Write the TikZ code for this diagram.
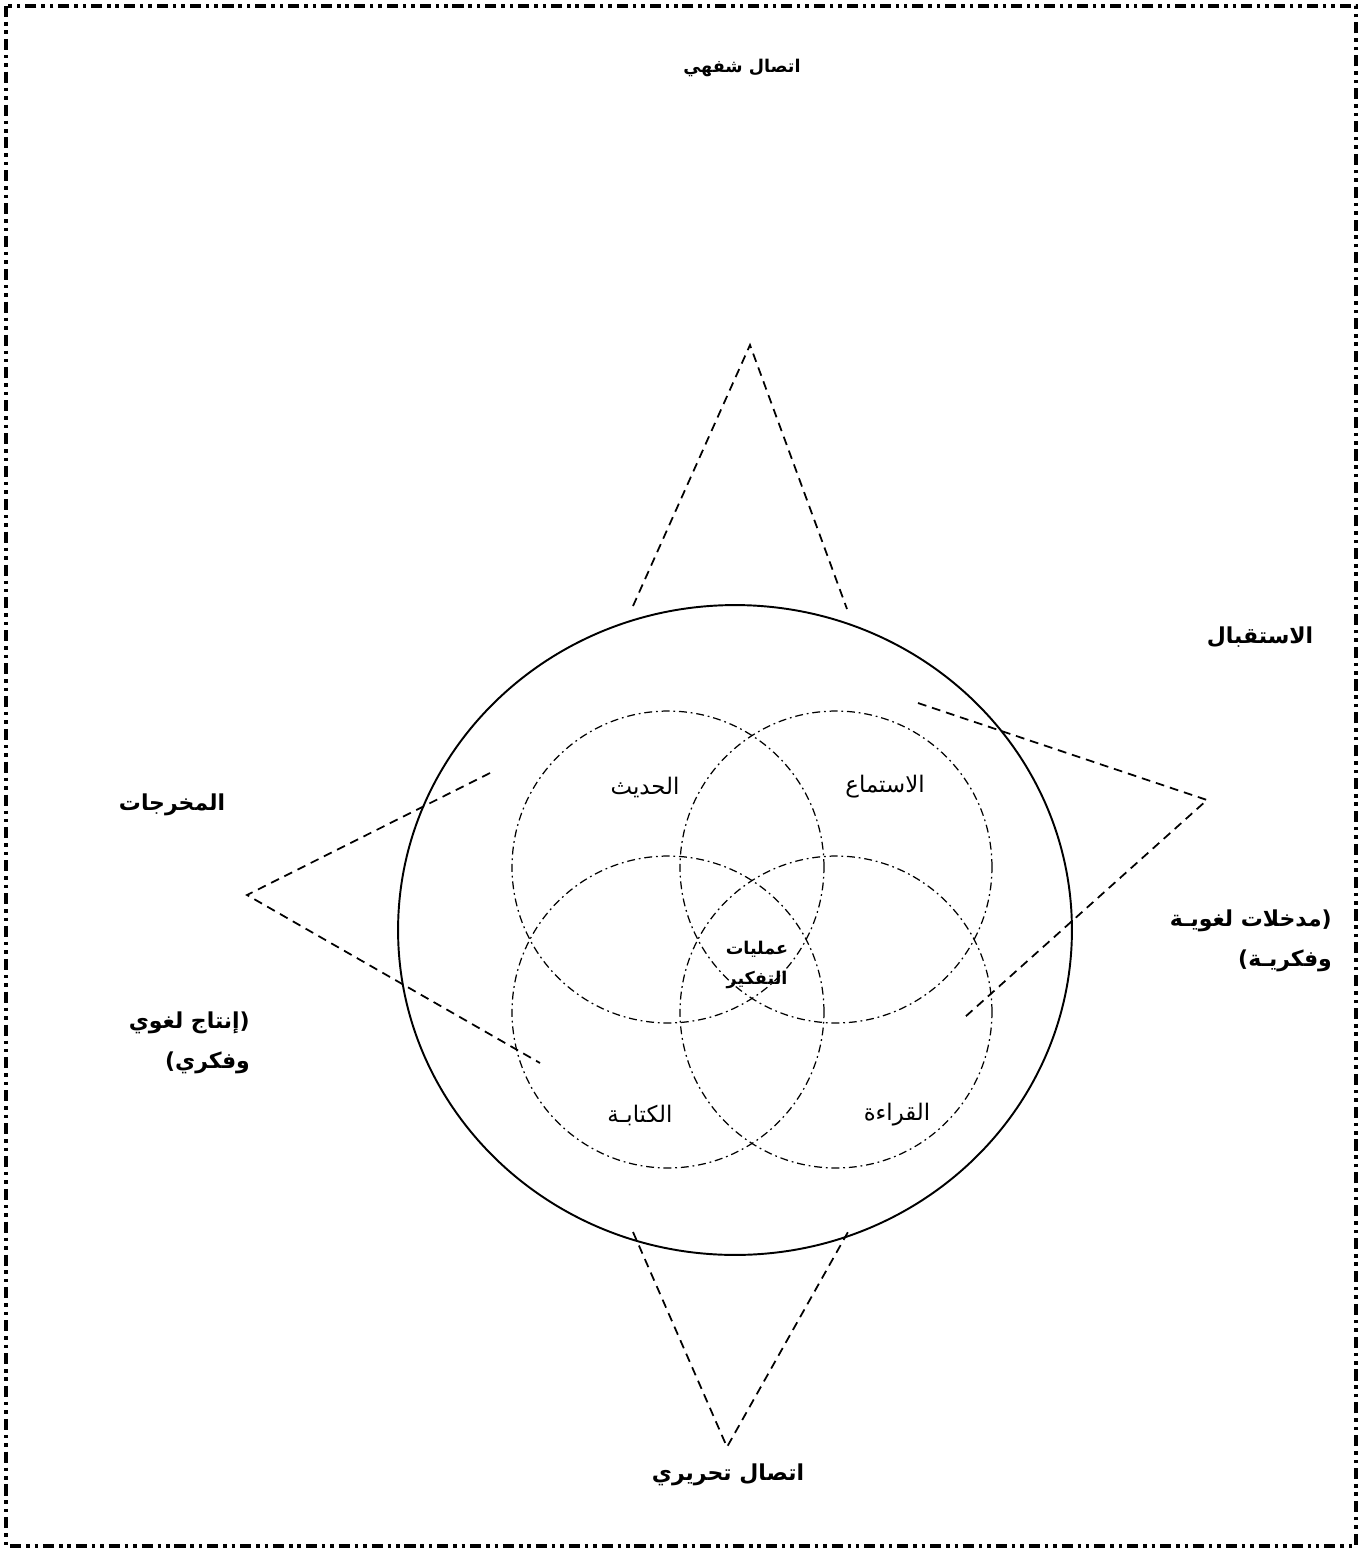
\documentclass[tikz,border=0pt]{standalone}
\usepackage{fontspec}
\usepackage{tikz}
\usetikzlibrary{calc, positioning}
\newfontfamily\arabicfont[Script=Arabic]{DejaVu Sans}
\TeXXeTstate=1
\tikzstyle{frame} = [
line width=2pt,
dash pattern=on 6.3pt off 2.8pt on 2pt off 2.8pt on 2pt off 2.8pt
]
\tikzstyle{outer} = [
line width=1.1pt
]
\tikzstyle{skill} = [
line width=0.7pt,
dash pattern=on 4.5pt off 2.2pt on 1pt off 2.2pt
]
\tikzstyle{wedge} = [
line width=1pt,
dash pattern=on 5pt off 3.4pt
]
\tikzstyle{biglabel} = [
font=\arabicfont\bfseries\fontsize{12.5}{23}\selectfont,
align=center
]
\tikzstyle{sidelabel} = [
font=\arabicfont\bfseries\fontsize{12.5}{23}\selectfont,
align=right,
anchor=east
]
\tikzstyle{toplabel} = [
font=\arabicfont\bfseries\fontsize{10}{13}\selectfont,
align=center
]
\tikzstyle{skilllabel} = [
font=\arabicfont\fontsize{13}{16}\selectfont
]
\tikzstyle{corelabel} = [
font=\arabicfont\bfseries\fontsize{10}{17}\selectfont,
align=center
]
\newcommand{\ar}[1]{\beginR #1\endR}

\begin{document}
\begin{tikzpicture}[x=0.02cm, y=-0.02cm]
        
        \useasboundingbox (0,0) rectangle (1363,1552);
        \draw [frame] (6,6) rectangle (1356,1546);
        
        % circles
        \coordinate (mid) at (735,930);
        \draw [outer] (mid) ellipse [x radius=6.74cm, y radius=6.5cm];
        
        \coordinate (speak) at (668,867);
        \coordinate (listen) at (836,867);
        \coordinate (write) at (668,1012);
        \coordinate (read) at (836,1012);
        \foreach \c in {speak, listen, write, read}
        \draw [skill] (\c) circle [radius=3.12cm];
        
        % wedges
        \coordinate (topA) at (750,345);
        \coordinate (topL) at (633,606);
        \coordinate (topR) at (847,609);
        \coordinate (botA) at (727,1447);
        \coordinate (botL) at (633,1232);
        \coordinate (botR) at (848,1232);
        \coordinate (rgtA) at (1207,800);
        \coordinate (rgtT) at (918,703);
        \coordinate (rgtB) at (965,1017);
        \coordinate (lftA) at (247,895);
        \coordinate (lftT) at (490,773);
        \coordinate (lftB) at (540,1063);
        
        \draw [wedge] (topL) -- (topA) -- (topR);
        \draw [wedge] (botL) -- (botA) -- (botR);
        \draw [wedge] (rgtT) -- (rgtA) -- (rgtB);
        \draw [wedge] (lftT) -- (lftA) -- (lftB);
        
        % labels
        \node (oral) [toplabel] at (742,68) {\ar{اتصال شفهي}};
        \node (written) [biglabel] at (728,1475) {\ar{اتصال تحريري}};
        \node (recv) [biglabel] at (1260,637) {\ar{الاستقبال}};
        \node (inp) [sidelabel] at (1338,941)
        {\ar{(مدخلات لغويـة}\\\ar{وفكريـة)}};
        \node (outp) [biglabel] at (172,805) {\ar{المخرجات}};
        \node (prod) [sidelabel] at (256,1043)
        {\ar{(إنتاج لغوي}\\\ar{وفكري)}};
        
        \node (speakT) [skilllabel] at (645,787) {\ar{الحديث}};
        \node (listenT) [skilllabel] at (885,787) {\ar{الاستماع}};
        \node (writeT) [skilllabel] at (640,1115) {\ar{الكتابـة}};
        \node (readT) [skilllabel] at (897,1115) {\ar{القراءة}};
        \node (think) [corelabel] at (757,965) {\ar{عمليات}\\\ar{التفكير}};
        
        \end{tikzpicture}
\end{document}
